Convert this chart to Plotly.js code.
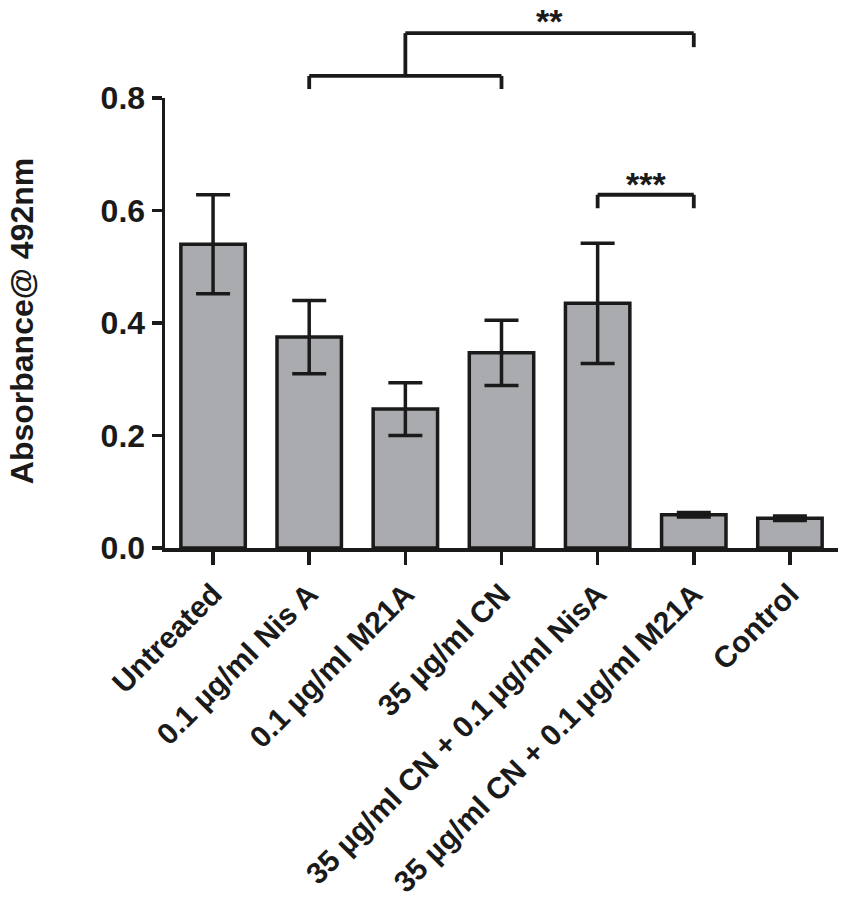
<!DOCTYPE html>
<html>
<head>
<meta charset="utf-8">
<script src="https://cdn.plot.ly/plotly-3.0.1.min.js"></script>
<style>
    html, body { margin: 0; padding: 0; background: #ffffff; }
    #chart { width: 850px; height: 904px; }
</style>
</head>
<body>
<div id="chart"></div>
<script>
// Values
var categories = [
    'Untreated',
    '0.1 µg/ml Nis A',
    '0.1 µg/ml M21A',
    '35 µg/ml CN',
    '35 µg/ml CN + 0.1\u2009µg/ml NisA',
    '35 µg/ml CN + 0.1\u2009µg/ml M21A',
    'Control'
];
var absorbance = [0.540, 0.375, 0.247, 0.347, 0.435, 0.059, 0.053];
var absorbanceErr = [0.088, 0.065, 0.047, 0.058, 0.107, 0.004, 0.004];
var yTickValues = [0.0, 0.2, 0.4, 0.6, 0.8];

// Significance brackets: [from index, to index, label]
var sigPairs = [
    [1, 3, ''],
    [2, 5, '**'],
    [4, 5, '***']
];

var FONT = 'Arial, "Liberation Sans", sans-serif';
var INK = '#1a1a1a';

window.addEventListener('load', function()
{
    drawChart();
});

function bracketShapes(from, to, yref, yTop, yEnd)
{
    var line = { color: INK, width: 3.8 };
    return [
        { type: 'line', xref: 'x', yref: yref, x0: from, x1: to, y0: yTop, y1: yTop, line: line },
        { type: 'line', xref: 'x', yref: yref, x0: from, x1: from, y0: yTop, y1: yEnd, line: line },
        { type: 'line', xref: 'x', yref: yref, x0: to, x1: to, y0: yTop, y1: yEnd, line: line }
    ];
}

function drawChart()
{
    var x = categories.map(function(_, i) { return i; });

    var bars = {
        type: 'bar',
        x: x,
        y: absorbance,
        width: 0.67,
        marker: { color: '#aaabaf', line: { color: INK, width: 3.5 } },
        error_y: {
            type: 'data',
            array: absorbanceErr,
            visible: true,
            color: INK,
            thickness: 3.5,
            width: 17
        },
        hoverinfo: 'skip'
    };

    // lower bracket (Nis A .. CN), upper bracket joined at its middle, and the *** one
    var shapes = [];
    shapes = shapes.concat(bracketShapes(sigPairs[0][0], sigPairs[0][1], 'paper', 1.049, 1.020));
    shapes = shapes.concat([
        { type: 'line', xref: 'x', yref: 'paper', x0: sigPairs[1][0], x1: sigPairs[1][1], y0: 1.144, y1: 1.144, line: { color: INK, width: 3.8 } },
        { type: 'line', xref: 'x', yref: 'paper', x0: sigPairs[1][0], x1: sigPairs[1][0], y0: 1.144, y1: 1.049, line: { color: INK, width: 3.8 } },
        { type: 'line', xref: 'x', yref: 'paper', x0: sigPairs[1][1], x1: sigPairs[1][1], y0: 1.144, y1: 1.113, line: { color: INK, width: 3.8 } }
    ]);
    shapes = shapes.concat(bracketShapes(sigPairs[2][0], sigPairs[2][1], 'y', 0.628, 0.604));

    var starFont = { family: FONT, size: 34, color: INK, weight: 'bold' };
    var annotations = [
        {
            xref: 'x', yref: 'paper',
            x: (sigPairs[1][0] + sigPairs[1][1]) / 2, y: 1.124,
            yanchor: 'bottom', text: sigPairs[1][2], showarrow: false,
            font: starFont
        },
        {
            xref: 'x', yref: 'y',
            x: (sigPairs[2][0] + sigPairs[2][1]) / 2, y: 0.610,
            yanchor: 'bottom', text: sigPairs[2][2], showarrow: false,
            font: starFont
        },
        {
            // y axis title
            xref: 'paper', yref: 'paper',
            x: -0.2125, y: 0.504,
            xanchor: 'center', yanchor: 'middle',
            textangle: -90, showarrow: false,
            text: 'Absorbance@ 492nm',
            font: { family: FONT, size: 32, color: INK, weight: 'bold' }
        }
    ];

    var layout = {
        width: 850,
        height: 904,
        margin: { l: 165, r: 12, t: 98, b: 356 },
        paper_bgcolor: '#ffffff',
        plot_bgcolor: '#ffffff',
        showlegend: false,
        font: { family: FONT, color: INK },
        xaxis: {
            range: [-0.5, 6.5],
            tickmode: 'array',
            tickvals: x,
            ticktext: categories,
            tickangle: -45,
            ticks: 'outside',
            ticklen: 13,
            tickwidth: 3.5,
            tickcolor: INK,
            showline: true,
            linecolor: INK,
            linewidth: 3.5,
            showgrid: false,
            zeroline: false,
            automargin: false,
            tickfont: { family: FONT, size: 30, color: INK, weight: 'bold' }
        },
        yaxis: {
            range: [0, 0.8],
            tickmode: 'array',
            tickvals: yTickValues,
            ticktext: yTickValues.map(function(v) { return v.toFixed(1); }),
            ticks: 'outside',
            ticklen: 10,
            tickwidth: 3.5,
            tickcolor: INK,
            showline: true,
            linecolor: INK,
            linewidth: 3.5,
            showgrid: false,
            zeroline: false,
            automargin: false,
            tickfont: { family: FONT, size: 32, color: INK, weight: 'bold' }
        },
        shapes: shapes,
        annotations: annotations
    };

    Plotly.newPlot('chart', [bars], layout, { displayModeBar: false, staticPlot: true });
}
</script>
</body>
</html>
